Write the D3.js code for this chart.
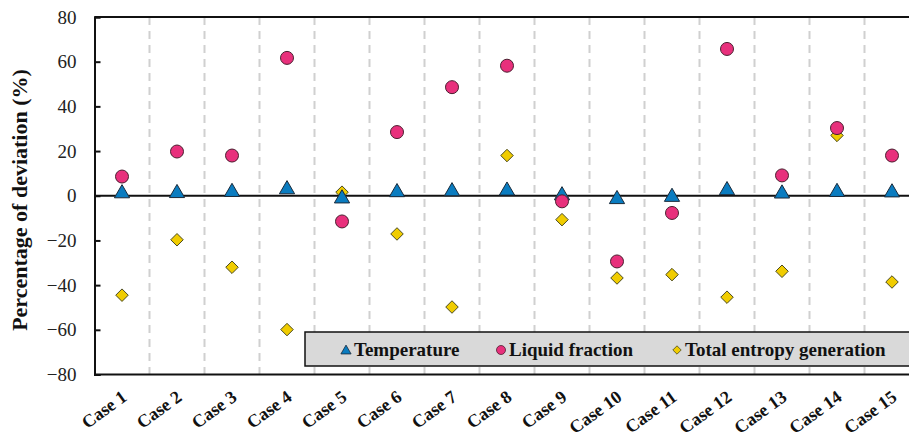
<!DOCTYPE html>
<html>
<head>
<meta charset="utf-8">
<script src="https://cdn.jsdelivr.net/npm/d3@7/dist/d3.min.js"></script>
<style>
  html, body { margin: 0; padding: 0; background: #fff; }
  svg { display: block; }
  text { font-family: "Liberation Serif", "Times New Roman", serif; }
</style>
</head>
<body>
<svg id="chart" width="909" height="437"></svg>
<script>
// Categories and series (percentage of deviation, %)
const cases = ["Case 1", "Case 2", "Case 3", "Case 4", "Case 5", "Case 6", "Case 7", "Case 8",
               "Case 9", "Case 10", "Case 11", "Case 12", "Case 13", "Case 14", "Case 15"];
const temperature = [0.6, 0.7, 1.2, 2.4, -1.7, 1.1, 1.5, 1.8, -0.3, -2.0, -1.0, 2.0, 0.5, 1.2, 1.0];
const liquidFraction = [8.6, 19.8, 18.0, 61.7, -11.5, 28.5, 48.6, 58.2, -2.5, -29.4, -7.7, 65.7, 9.1, 30.3, 18.0];
const entropyGeneration = [-44.5, -19.7, -32.0, -59.9, 1.6, -17.1, -49.8, 18.0, -10.7, -36.8, -35.3, -45.4, -33.8, 27.0, -38.6];
const yTicks = [-80, -60, -40, -20, 0, 20, 40, 60, 80];
const yTitle = "Percentage of deviation (%)";
const legendLabels = ["Temperature", "Liquid fraction", "Total entropy generation"];

const svg = d3.select("#chart");
const m = { left: 94.5, top: 17, bottom: 374.5 };
const step = 55;
const plotRight = m.left + step * cases.length;

const x = d3.scaleBand().domain(cases).range([m.left, plotRight]).padding(0);
const y = d3.scaleLinear().domain([-80, 80]).range([m.bottom, m.top]);

// Dashed separators between cases
svg.append("g").selectAll("line")
  .data(cases.slice(1))
  .join("line")
  .attr("x1", d => x(d)).attr("x2", d => x(d))
  .attr("y1", m.top).attr("y2", m.bottom)
  .attr("stroke", "#d0d0d0").attr("stroke-width", 2)
  .attr("stroke-dasharray", "8,6");

// Frame: top and bottom lines
svg.append("line").attr("x1", m.left).attr("x2", plotRight)
  .attr("y1", m.top).attr("y2", m.top).attr("stroke", "#111").attr("stroke-width", 2);
svg.append("line").attr("x1", m.left).attr("x2", plotRight)
  .attr("y1", m.bottom).attr("y2", m.bottom).attr("stroke", "#111").attr("stroke-width", 2);

// Y axis with inward ticks
const yAxis = d3.axisLeft(y).tickValues(yTicks).tickSize(-6).tickPadding(18).tickFormat(d3.format("d"));
const gy = svg.append("g").attr("transform", `translate(${m.left},0)`).call(yAxis);
gy.select(".domain").attr("stroke", "#111").attr("stroke-width", 2);
gy.selectAll(".tick line").attr("stroke", "#111").attr("stroke-width", 2);
gy.selectAll(".tick text").attr("font-size", 19).attr("fill", "#222");

// Zero line
svg.append("line").attr("x1", m.left).attr("x2", plotRight)
  .attr("y1", y(0)).attr("y2", y(0)).attr("stroke", "#111").attr("stroke-width", 2);

// Category labels, rotated
svg.append("g").selectAll("text")
  .data(cases)
  .join("text")
  .attr("transform", d => `translate(${x(d) + x.bandwidth() / 2 + 6},${m.bottom + 25}) rotate(-36)`)
  .attr("text-anchor", "end")
  .attr("font-size", 18).attr("font-weight", "bold").attr("fill", "#111")
  .text(d => d);

// Y axis title
svg.append("text")
  .attr("transform", `translate(27,200) rotate(-90)`)
  .attr("text-anchor", "middle")
  .attr("font-size", 22).attr("font-weight", "bold").attr("fill", "#111")
  .text(yTitle);

// Marker shapes
const triPath = d3.symbol().type(d3.symbolTriangle).size(100)();
const diaPath = d3.symbol().type(d3.symbolDiamond2).size(100)();
const cx = (d, i) => x(cases[i]) + x.bandwidth() / 2;

const tri = { fill: "#0a7cc0", stroke: "#1a2a3a" };
const cir = { fill: "#e8307c", stroke: "#4a2030" };
const dia = { fill: "#f0cc00", stroke: "#4a4a20" };

svg.append("g").selectAll("path")
  .data(entropyGeneration).join("path")
  .attr("d", diaPath)
  .attr("transform", (d, i) => `translate(${cx(d, i)},${y(d)})`)
  .attr("fill", dia.fill).attr("stroke", dia.stroke).attr("stroke-width", 1);

svg.append("g").selectAll("path")
  .data(temperature).join("path")
  .attr("d", triPath)
  .attr("transform", (d, i) => `translate(${cx(d, i)},${y(d) - 1})`)
  .attr("fill", tri.fill).attr("stroke", tri.stroke).attr("stroke-width", 1);

svg.append("g").selectAll("circle")
  .data(liquidFraction).join("circle")
  .attr("cx", cx).attr("cy", d => y(d)).attr("r", 6.5)
  .attr("fill", cir.fill).attr("stroke", cir.stroke).attr("stroke-width", 1);

// Legend
const lg = svg.append("g");
lg.append("rect").attr("x", 305).attr("y", 332).attr("width", 640).attr("height", 34)
  .attr("fill", "#d9d9d9").attr("stroke", "#111").attr("stroke-width", 1.5);
const legendX = [346, 501, 677];
const legendShapes = [
  g => g.append("path").attr("d", d3.symbol().type(d3.symbolTriangle).size(45)()).attr("transform", "translate(0,1)").attr("fill", tri.fill).attr("stroke", tri.stroke).attr("stroke-width", 0.8),
  g => g.append("circle").attr("r", 4.5).attr("fill", cir.fill).attr("stroke", cir.stroke).attr("stroke-width", 0.8),
  g => g.append("path").attr("d", d3.symbol().type(d3.symbolDiamond2).size(45)()).attr("fill", dia.fill).attr("stroke", dia.stroke).attr("stroke-width", 0.8)
];
legendLabels.forEach((lab, i) => {
  const g = lg.append("g").attr("transform", `translate(${legendX[i]},350)`);
  legendShapes[i](g);
  g.append("text").attr("x", 8).attr("y", 6)
    .attr("font-size", 19).attr("font-weight", "bold").attr("fill", "#111")
    .text(lab);
});
</script>
</body>
</html>
